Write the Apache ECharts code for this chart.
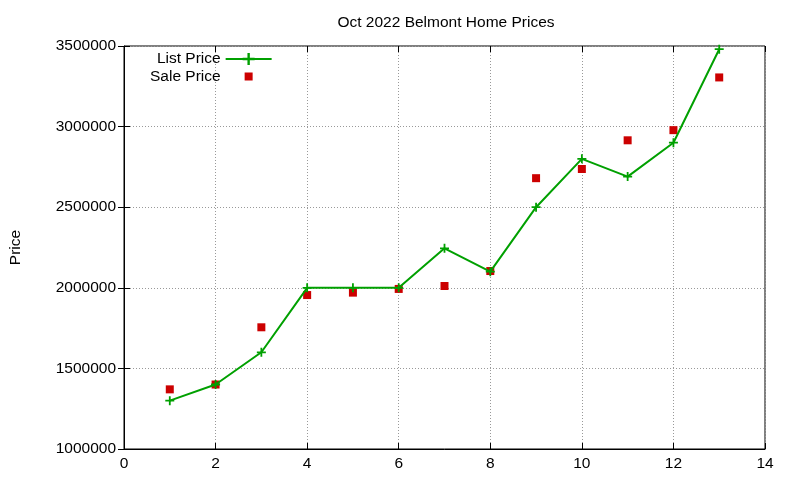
<!DOCTYPE html>
<html><head><meta charset="utf-8">
<script src="https://cdn.jsdelivr.net/npm/echarts@6/dist/echarts.min.js"></script>
<style>html,body{margin:0;padding:0;background:#fff}#c{width:800px;height:480px}</style>
</head><body><div id="c"></div>
<script>
const xs = [1,2,3,4,5,6,7,8,9,10,11,12,13];
const listPrice = [1300000,1400000,1600000,2000000,2000000,2000000,2245000,2100000,2500000,2800000,2690000,2900000,3480000];
const salePrice = [1370000,1400000,1755000,1955000,1970000,1993000,2011000,2104000,2680000,2737000,2915000,2978000,3305000];
const plus = 'path://M4,0H6V4H10V6H6V10H4V6H0V4H4Z';
const F = 'Liberation Sans';
const chart = echarts.init(document.getElementById('c'));
const tickStyle = {show:true, inside:true, length:6, lineStyle:{color:'#000'}};
chart.setOption({
  animation:false,
  textStyle:{fontFamily:F},
  title:{text:'Oct 2022 Belmont Home Prices', left:441, top:10, textAlign:'center',
    textStyle:{fontFamily:F, fontSize:15.5, fontWeight:'normal', color:'#000'}},
  grid:{left:118, right:35, top:46, bottom:31, show:true, borderColor:'#000', borderWidth:1},
  legend:{orient:'vertical', left:145, top:46, align:'right', itemGap:2, itemWidth:46, itemHeight:15,
    textStyle:{fontFamily:F, fontSize:15.5, color:'#000'},
    data:[{name:'List Price'},
          {name:'Sale Price', icon:'path://M0,0L0.01,0L0,0ZM19,3H27V11H19ZM46,15L46.01,15L46,15Z'}]},
  xAxis:[{type:'value', min:0, max:14, interval:2,
    axisLine:{lineStyle:{color:'#000'}}, axisTick:tickStyle,
    axisLabel:{color:'#000', fontSize:15.5, fontFamily:F, margin:7},
    splitLine:{lineStyle:{color:'#999', type:[1,2]}}},
   {type:'value', min:0, max:14, interval:2, position:'top', axisTick:tickStyle, axisLabel:{show:false}, splitLine:{show:false}, axisLine:{show:false}}],
  yAxis:[{type:'value', min:1000000, max:3500000, interval:500000, name:'Price',
    nameLocation:'middle', nameGap:100, nameTextStyle:{fontFamily:F, fontSize:15.5, color:'#000'},
    axisLine:{show:true, lineStyle:{color:'#000'}}, axisTick:tickStyle,
    axisLabel:{color:'#000', fontSize:15.5, fontFamily:F, margin:8, formatter:v=>String(v)},
    splitLine:{lineStyle:{color:'#999', type:[1,2]}}},
   {type:'value', min:1000000, max:3500000, interval:500000, position:'right', axisTick:tickStyle, axisLabel:{show:false}, splitLine:{show:false}, axisLine:{show:false}}],
  series:[
    {name:'List Price', type:'line', data:xs.map((x,i)=>[x,listPrice[i]]),
      symbol:plus, symbolSize:9, showAllSymbol:true,
      lineStyle:{color:'#00a000', width:2}, itemStyle:{color:'#00a000'}},
    {name:'Sale Price', type:'scatter', data:xs.map((x,i)=>[x,salePrice[i]]),
      symbol:'rect', symbolSize:8, itemStyle:{color:'#cc0000', opacity:1}}
  ]
});
</script></body></html>
